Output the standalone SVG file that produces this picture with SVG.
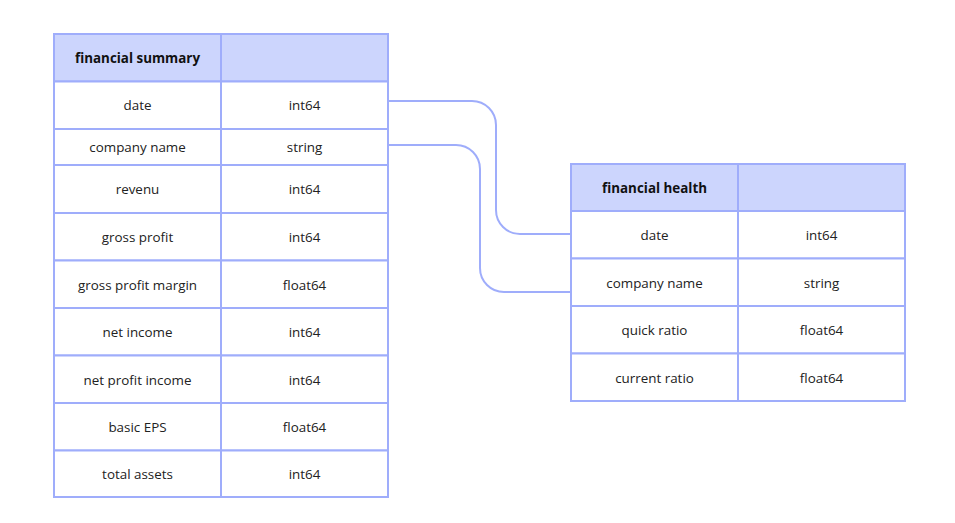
<svg xmlns="http://www.w3.org/2000/svg" width="955" height="523" viewBox="0 0 955 523">
<style>
.cell{fill:#ffffff;stroke:#9fadfb;stroke-width:2}
.head{fill:#ccd5fd;stroke:#9fadfb;stroke-width:2}
.t{font-family:"Open Sans","Liberation Sans",sans-serif;font-size:13.4px;fill:#222222;text-anchor:middle;dominant-baseline:central}
.h{font-weight:bold;fill:#111111}
.edge{fill:none;stroke:#9fadfb;stroke-width:2}
</style>
<rect width="955" height="523" fill="#ffffff"/>
<g id="connectors">
<path class="edge" d="M388,101 H472 A24,24 0 0 1 496,125 V210 A24,24 0 0 0 520,234 H571"/>
<path class="edge" d="M388,145 H456 A24,24 0 0 1 480,169 V268 A24,24 0 0 0 504,292 H571"/>
</g>
<g id="financial-summary">
<rect class="head" x="54" y="34" width="167" height="47.5"/>
<rect class="head" x="221" y="34" width="167" height="47.5"/>
<text class="t h" x="137.5" y="58">financial summary</text>
<rect class="cell" x="54" y="81.5" width="167" height="47.5"/><rect class="cell" x="221" y="81.5" width="167" height="47.5"/>
<text class="t" x="137.5" y="105">date</text><text class="t" x="304.5" y="105">int64</text>
<rect class="cell" x="54" y="129" width="167" height="36"/><rect class="cell" x="221" y="129" width="167" height="36"/>
<text class="t" x="137.5" y="147">company name</text><text class="t" x="304.5" y="147">string</text>
<rect class="cell" x="54" y="165" width="167" height="48"/><rect class="cell" x="221" y="165" width="167" height="48"/>
<text class="t" x="137.5" y="189">revenu</text><text class="t" x="304.5" y="189">int64</text>
<rect class="cell" x="54" y="213" width="167" height="47.5"/><rect class="cell" x="221" y="213" width="167" height="47.5"/>
<text class="t" x="137.5" y="237">gross profit</text><text class="t" x="304.5" y="237">int64</text>
<rect class="cell" x="54" y="260.5" width="167" height="47.5"/><rect class="cell" x="221" y="260.5" width="167" height="47.5"/>
<text class="t" x="137.5" y="284.5">gross profit margin</text><text class="t" x="304.5" y="284.5">float64</text>
<rect class="cell" x="54" y="308" width="167" height="47.5"/><rect class="cell" x="221" y="308" width="167" height="47.5"/>
<text class="t" x="137.5" y="332">net income</text><text class="t" x="304.5" y="332">int64</text>
<rect class="cell" x="54" y="355.5" width="167" height="47.5"/><rect class="cell" x="221" y="355.5" width="167" height="47.5"/>
<text class="t" x="137.5" y="379.5">net profit income</text><text class="t" x="304.5" y="379.5">int64</text>
<rect class="cell" x="54" y="403" width="167" height="47.5"/><rect class="cell" x="221" y="403" width="167" height="47.5"/>
<text class="t" x="137.5" y="427">basic EPS</text><text class="t" x="304.5" y="427">float64</text>
<rect class="cell" x="54" y="450.5" width="167" height="46.5"/><rect class="cell" x="221" y="450.5" width="167" height="46.5"/>
<text class="t" x="137.5" y="474">total assets</text><text class="t" x="304.5" y="474">int64</text>
</g>
<g id="financial-health">
<rect class="head" x="571" y="164" width="167" height="47"/>
<rect class="head" x="738" y="164" width="167" height="47"/>
<text class="t h" x="654.5" y="188">financial health</text>
<rect class="cell" x="571" y="211" width="167" height="47.5"/><rect class="cell" x="738" y="211" width="167" height="47.5"/>
<text class="t" x="654.5" y="235">date</text><text class="t" x="821.5" y="235">int64</text>
<rect class="cell" x="571" y="258.5" width="167" height="47.5"/><rect class="cell" x="738" y="258.5" width="167" height="47.5"/>
<text class="t" x="654.5" y="283">company name</text><text class="t" x="821.5" y="283">string</text>
<rect class="cell" x="571" y="306" width="167" height="47.5"/><rect class="cell" x="738" y="306" width="167" height="47.5"/>
<text class="t" x="654.5" y="330">quick ratio</text><text class="t" x="821.5" y="330">float64</text>
<rect class="cell" x="571" y="353.5" width="167" height="47.5"/><rect class="cell" x="738" y="353.5" width="167" height="47.5"/>
<text class="t" x="654.5" y="378">current ratio</text><text class="t" x="821.5" y="378">float64</text>
</g>
</svg>
